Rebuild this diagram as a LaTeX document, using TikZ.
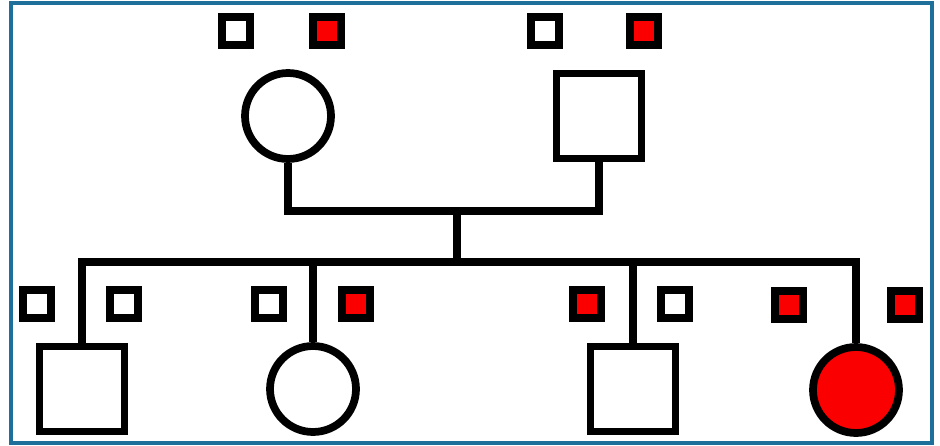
\documentclass[tikz,border=0pt]{standalone}
\usepackage{tikz}
\usetikzlibrary{shapes.geometric, positioning}
\definecolor{framecol}{RGB}{30,112,155}
\definecolor{affred}{RGB}{250,0,0}
\tikzstyle{male} = [rectangle, minimum size=1.7cm, inner sep=0pt, draw=black, line width=4.4pt, fill=white]
\tikzstyle{female} = [circle, minimum size=1.72cm, inner sep=0pt, draw=black, line width=4.4pt, fill=white]
\tikzstyle{allele} = [rectangle, minimum size=0.56cm, inner sep=0pt, draw=black, line width=4.3pt, fill=white]
\tikzstyle{mutant} = [allele, fill=affred]
\tikzstyle{line} = [line width=4pt, black]

\begin{document}
\begin{tikzpicture}[x=0.02cm, y=-0.02cm, node distance=1.7cm]

\useasboundingbox (0,0) rectangle (940,446);
\draw [framecol, line width=1.8pt] (11,3) rectangle (932,443);

% parents
\node (mother) [female] at (288,116) {};
\node (father) [male] at (599,116) {};
\node (motherA) [allele, above of=mother, xshift=-1.04cm] {};
\node (motherB) [mutant, above of=mother, xshift=0.78cm] {};
\node (fatherA) [allele, above of=father, xshift=-1.08cm] {};
\node (fatherB) [mutant, above of=father, xshift=0.9cm] {};

% children
\node (son1) [male] at (82,389) {};
\node (daughter1) [female] at (313,389) {};
\node (son2) [male] at (633,389) {};
\node (daughter2) [female, fill=affred] at (856,390) {};
\node (son1A) [allele, above of=son1, xshift=-0.9cm] {};
\node (son1B) [allele, above of=son1, xshift=0.84cm] {};
\node (daughter1A) [allele, above of=daughter1, xshift=-0.88cm] {};
\node (daughter1B) [mutant, above of=daughter1, xshift=0.86cm] {};
\node (son2A) [mutant, above of=son2, xshift=-0.92cm] {};
\node (son2B) [allele, above of=son2, xshift=0.84cm] {};
\node (daughter2A) [mutant, above of=daughter2, xshift=-1.34cm] {};
\node (daughter2B) [mutant, above of=daughter2, xshift=0.98cm] {};

\coordinate (mating) at (457,211);
\coordinate (sibship) at (457,262);

\draw [line] (mother) -- (mother |- mating) -| (father);
\draw [line] (mating) -- (sibship);
\draw [line] (son1) |- (sibship) -| (daughter2);
\draw [line] (daughter1) -- (daughter1 |- sibship);
\draw [line] (son2) -- (son2 |- sibship);

\end{tikzpicture}
\end{document}
